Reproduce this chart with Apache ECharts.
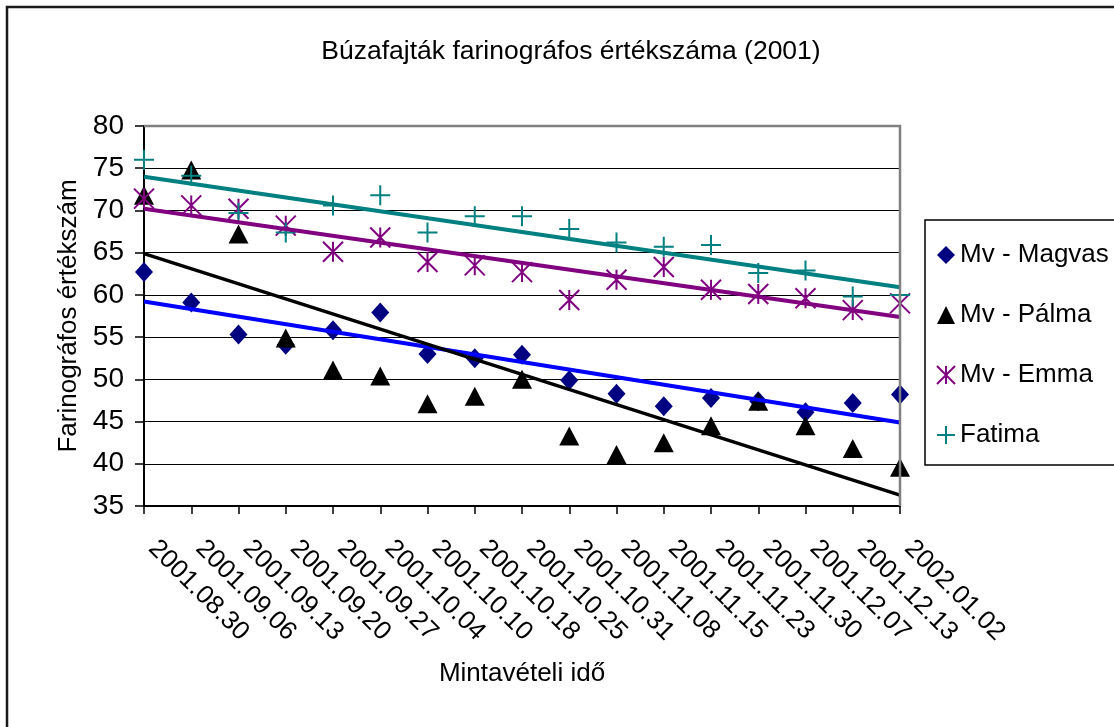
<!DOCTYPE html>
<html>
<head>
<meta charset="utf-8">
<script src="https://cdn.jsdelivr.net/npm/echarts@6/dist/echarts.min.js"></script>
<style>
  html, body { margin: 0; padding: 0; background: #fff; }
  #chart { width: 1114px; height: 727px; }
</style>
</head>
<body>
<div id="chart"></div>
<script>
const categories = ['2001.08.30','2001.09.06','2001.09.13','2001.09.20','2001.09.27','2001.10.04','2001.10.10','2001.10.18','2001.10.25','2001.10.31','2001.11.08','2001.11.15','2001.11.23','2001.11.30','2001.12.07','2001.12.13','2002.01.02'];
const magvas = [62.7,59.1,55.3,54.1,55.8,57.9,53.0,52.5,52.9,49.9,48.3,46.8,47.8,47.4,46.1,47.2,48.2];
const palma  = [71.8,74.8,67.2,54.9,51.1,50.4,47.1,48.0,50.0,43.3,41.1,42.5,44.5,47.4,44.5,41.8,39.6];
const emma   = [71.4,70.6,70.2,68.2,65.1,66.8,63.9,63.5,62.7,59.4,61.8,63.3,60.6,60.1,59.6,58.2,59.0];
const fatima = [76.0,74.1,69.7,67.4,70.6,71.8,67.4,69.3,69.3,67.8,66.2,65.7,65.9,62.6,62.9,59.8,60.0];
const yTicks = { min: 35, max: 80, interval: 5 };

const FONT = 'Liberation Sans, Arial, sans-serif';
const GL = 144, GT = 126, GR = 900, GB = 506;

// least-squares linear trendline (as Excel's linear trendline)
function trend(vals) {
  const n = vals.length;
  let sx = 0, sy = 0, sxx = 0, sxy = 0;
  vals.forEach((v, i) => { sx += i; sy += v; sxx += i * i; sxy += i * v; });
  const b = (n * sxy - sx * sy) / (n * sxx - sx * sx);
  const a = (sy - b * sx) / n;
  return [[0, a], [n - 1, a + b * (n - 1)]];
}

const asterisk = 'path://M0 0 L10 10 M10 0 L0 10 M5 0 L5 10';
const plus = 'path://M5 0 L5 10 M0 5 L10 5';

const chart = echarts.init(document.getElementById('chart'), null, { renderer: 'canvas' });
chart.setOption({
  animation: false,
  backgroundColor: '#fff',
  textStyle: { fontFamily: FONT },
  title: {
    text: 'Búzafajták farinográfos értékszáma (2001)',
    left: 566, top: 33, textAlign: 'center',
    textStyle: { fontFamily: FONT, fontSize: 26.5, fontWeight: 'normal', color: '#000' }
  },
  grid: { left: GL, top: GT, right: 1114 - GR, bottom: 727 - GB },
  legend: {
    orient: 'vertical', left: 931, top: 237,
    itemWidth: 18, itemHeight: 18, itemGap: 34,
    data: ['Mv - Magvas', 'Mv - Pálma', 'Mv - Emma', 'Fatima'],
    textStyle: { fontFamily: FONT, fontSize: 26, color: '#000', lineHeight: 26 }
  },
  xAxis: {
    type: 'category', data: categories, boundaryGap: false,
    name: 'Mintavételi idő', nameLocation: 'middle', nameGap: 155,
    nameTextStyle: { fontFamily: FONT, fontSize: 26, color: '#000' },
    axisLine: { lineStyle: { color: '#000', width: 2 } },
    axisTick: { show: true, length: 8, inside: false, lineStyle: { color: '#000', width: 1.5 } },
    axisLabel: { rotate: -45, margin: 30, padding: [0, 0, 0, 12], fontFamily: FONT, fontSize: 26, color: '#000', interval: 0 },
    splitLine: { show: false }
  },
  yAxis: {
    type: 'value', min: yTicks.min, max: yTicks.max, interval: yTicks.interval,
    name: 'Farinográfos értékszám', nameLocation: 'middle', nameGap: 61, nameRotate: 90,
    nameTextStyle: { fontFamily: FONT, fontSize: 26, color: '#000' },
    axisLine: { show: true, lineStyle: { color: '#000', width: 2 } },
    axisTick: { show: true, length: 9, lineStyle: { color: '#000', width: 1.5 } },
    axisLabel: { margin: 20, fontFamily: FONT, fontSize: 28, color: '#000' },
    splitLine: { show: true, lineStyle: { color: '#000', width: 1 } }
  },
  series: [
    { name: 'Mv - Magvas', type: 'scatter', data: magvas, symbol: 'diamond', symbolSize: [18, 20],
      itemStyle: { color: '#000080', opacity: 1 }, z: 3 },
    { name: 'Mv - Pálma', type: 'scatter', data: palma, symbol: 'triangle', symbolSize: [20, 19],
      itemStyle: { color: '#000000', opacity: 1 }, z: 3 },
    { name: 'Mv - Emma', type: 'scatter', data: emma, symbol: asterisk, symbolSize: 20,
      itemStyle: { color: 'rgba(0,0,0,0)', borderColor: '#800080', borderWidth: 2, opacity: 1 }, z: 3 },
    { name: 'Fatima', type: 'scatter', data: fatima, symbol: plus, symbolSize: 20,
      itemStyle: { color: 'rgba(0,0,0,0)', borderColor: '#008080', borderWidth: 2, opacity: 1 }, z: 3 },
    { name: 'trend-magvas', type: 'line', data: trend(magvas), showSymbol: false, silent: true,
      lineStyle: { color: '#0000FF', width: 4 }, z: 4 },
    { name: 'trend-palma', type: 'line', data: trend(palma), showSymbol: false, silent: true,
      lineStyle: { color: '#000000', width: 3.5 }, z: 4 },
    { name: 'trend-emma', type: 'line', data: trend(emma), showSymbol: false, silent: true,
      lineStyle: { color: '#800080', width: 4 }, z: 4 },
    { name: 'trend-fatima', type: 'line', data: trend(fatima), showSymbol: false, silent: true,
      lineStyle: { color: '#008080', width: 4 }, z: 4 }
  ],
  graphic: [
    { type: 'rect', shape: { x: 7, y: 7, width: 1130, height: 740 },
      style: { fill: 'none', stroke: '#1a1a1a', lineWidth: 2.5 }, z: 100 },
    { type: 'rect', shape: { x: 925, y: 220, width: 220, height: 245 },
      style: { fill: 'none', stroke: '#000', lineWidth: 1.5 }, z: 100 },
    { type: 'polyline', shape: { points: [[GL, GT], [GR, GT], [GR, GB]] },
      style: { fill: 'none', stroke: '#808080', lineWidth: 2.5 }, z: 100 }
  ]
});
</script>
</body>
</html>
